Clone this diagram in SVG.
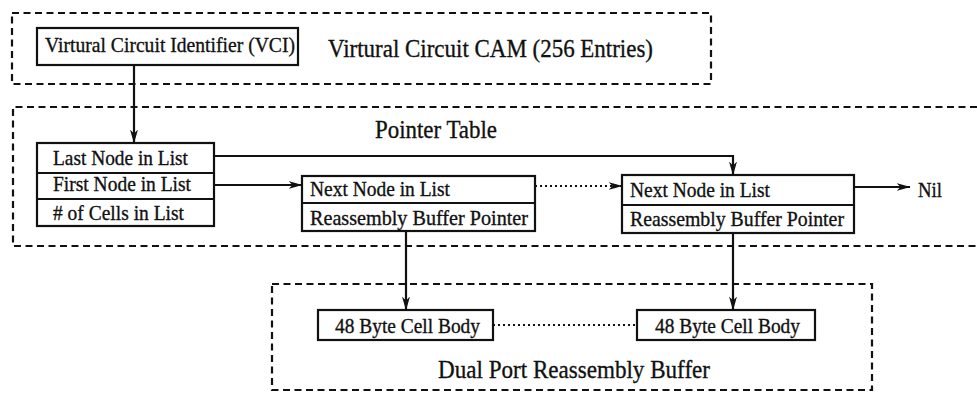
<svg xmlns="http://www.w3.org/2000/svg" width="977" height="398" viewBox="0 0 977 398">
<defs>
<style>
.dash{fill:none;stroke:#111;stroke-width:2.2;stroke-dasharray:7 4.5}
.box{fill:none;stroke:#111;stroke-width:2.2}
.ln{fill:none;stroke:#111;stroke-width:2.2}
.dot{fill:none;stroke:#111;stroke-width:2;stroke-dasharray:2 3}
.t{font-family:"Liberation Serif","Times New Roman",serif;font-size:22px;fill:#111;stroke:#111;stroke-width:0.35}
.L{font-family:"Liberation Serif","Times New Roman",serif;font-size:26px;fill:#111;stroke:#111;stroke-width:0.35}
</style>
<marker id="ah" markerWidth="14" markerHeight="8" refX="13.5" refY="4" orient="auto" markerUnits="userSpaceOnUse">
<path d="M0,0 L14,4 L0,8 L4,4 Z" fill="#111"/>
</marker>
</defs>
<rect width="977" height="398" fill="#fff"/>
<g id="cam-region">
<rect class="dash" x="12" y="13" width="699" height="71"/>
<text class="L" x="328" y="57" textLength="325" lengthAdjust="spacingAndGlyphs">Virtural Circuit CAM (256 Entries)</text>
</g>
<g id="vci">
<rect class="box" x="37" y="28" width="261" height="37"/>
<text class="t" x="45" y="52" textLength="250" lengthAdjust="spacingAndGlyphs">Virtural Circuit Identifier (VCI)</text>
</g>
<g id="pointer-table-region">
<path class="dash" d="M977,107 H13 V246 H977"/>
<text class="L" x="375" y="138" textLength="122" lengthAdjust="spacingAndGlyphs">Pointer Table</text>
</g>
<g id="pointer-table">
<rect class="box" x="37" y="143" width="177" height="83"/>
<line class="ln" x1="37" y1="173" x2="214" y2="173"/>
<line class="ln" x1="37" y1="199" x2="214" y2="199"/>
<text class="t" x="53" y="165" textLength="135" lengthAdjust="spacingAndGlyphs">Last Node in List</text>
<text class="t" x="53" y="191" textLength="138" lengthAdjust="spacingAndGlyphs">First Node in List</text>
<text class="t" x="53" y="220" textLength="131" lengthAdjust="spacingAndGlyphs"># of Cells in List</text>
</g>
<g id="node1">
<rect class="box" x="302" y="176" width="233" height="55"/>
<line class="ln" x1="302" y1="203" x2="535" y2="203"/>
<text class="t" x="310" y="196" textLength="140" lengthAdjust="spacingAndGlyphs">Next Node in List</text>
<text class="t" x="310" y="225" textLength="218" lengthAdjust="spacingAndGlyphs">Reassembly Buffer Pointer</text>
</g>
<g id="node2">
<rect class="box" x="622" y="175" width="232" height="58"/>
<line class="ln" x1="622" y1="205" x2="854" y2="205"/>
<text class="t" x="630" y="197" textLength="140" lengthAdjust="spacingAndGlyphs">Next Node in List</text>
<text class="t" x="630" y="226" textLength="214" lengthAdjust="spacingAndGlyphs">Reassembly Buffer Pointer</text>
</g>
<g id="nil">
<text class="t" x="918" y="197" textLength="24" lengthAdjust="spacingAndGlyphs">Nil</text>
</g>
<g id="buffer-region">
<rect class="dash" x="272" y="284" width="600" height="106"/>
<text class="L" x="438" y="378" textLength="272" lengthAdjust="spacingAndGlyphs">Dual Port Reassembly Buffer</text>
</g>
<g id="cell1">
<rect class="box" x="318" y="310" width="175" height="30"/>
<text class="t" x="335" y="333" textLength="145" lengthAdjust="spacingAndGlyphs">48 Byte Cell Body</text>
</g>
<g id="cell2">
<rect class="box" x="637" y="310" width="178" height="30"/>
<text class="t" x="655" y="333" textLength="145" lengthAdjust="spacingAndGlyphs">48 Byte Cell Body</text>
</g>
<g id="connectors">
<line class="ln" x1="134" y1="65" x2="134" y2="143" marker-end="url(#ah)"/>
<path class="ln" d="M214,156 H733 V175" marker-end="url(#ah)"/>
<line class="ln" x1="214" y1="185" x2="302" y2="185" marker-end="url(#ah)"/>
<line class="dot" x1="535" y1="186" x2="622" y2="186" marker-end="url(#ah)"/>
<line class="ln" x1="854" y1="187" x2="910" y2="187" marker-end="url(#ah)"/>
<line class="ln" x1="406" y1="231" x2="406" y2="310" marker-end="url(#ah)"/>
<line class="ln" x1="733" y1="233" x2="733" y2="310" marker-end="url(#ah)"/>
<line class="dot" x1="493" y1="325" x2="637" y2="325"/>
</g>
</svg>
